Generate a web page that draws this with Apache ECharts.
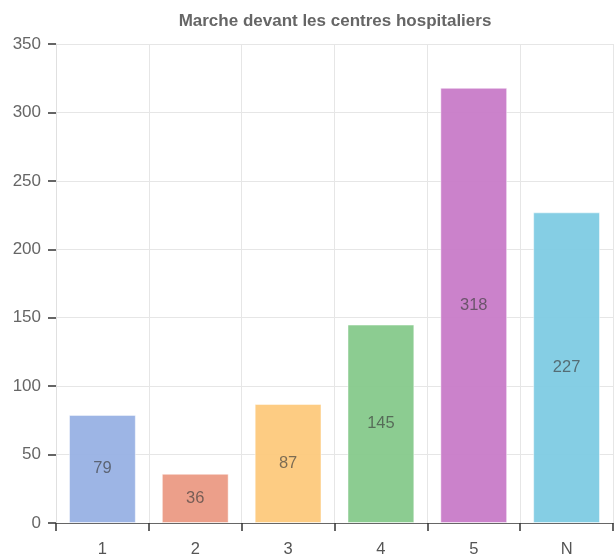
<!DOCTYPE html>
<html>
<head>
<meta charset="utf-8">
<script src="https://cdn.jsdelivr.net/npm/echarts@6/dist/echarts.min.js"></script>
<style>
  html, body { margin: 0; padding: 0; background: #fff; }
  #chart { width: 614px; height: 558px; }
</style>
</head>
<body>
<div id="chart"></div>
<script>
  // données du graphique
  const categories = ['1', '2', '3', '4', '5', 'N'];
  const values = [79, 36, 87, 145, 318, 227];
  const barColors = ['#98b1e4', '#eb9a84', '#fdc97c', '#86c98b', '#c87bc8', '#7ecbe3'];

  const chart = echarts.init(document.getElementById('chart'));

  const option = {
    animation: false,
    title: {
      text: 'Marche devant les centres hospitaliers',
      left: 330,
      top: 8,
      textAlign: 'center',
      textStyle: { fontFamily: 'Liberation Sans', fontSize: 17, fontWeight: 'bold', color: '#666' }
    },
    grid: { left: 56, right: 1, top: 44, bottom: 34 },
    xAxis: {
      type: 'category',
      data: categories,
      axisLine: { lineStyle: { color: '#666' } },
      axisTick: { show: true, length: 8, lineStyle: { color: '#333', width: 1.5 } },
      axisLabel: { fontFamily: 'Liberation Sans', fontSize: 16.5, color: '#555', margin: 18 },
      splitLine: { show: true, lineStyle: { color: '#e6e6e6' } }
    },
    yAxis: {
      type: 'value',
      min: 0,
      max: 350,
      interval: 50,
      axisLine: { show: true, lineStyle: { color: '#e0e0e0' } },
      axisTick: { show: true, length: 8, lineStyle: { color: '#333', width: 1.5 } },
      axisLabel: { fontFamily: 'Liberation Sans', fontSize: 17, color: '#666', margin: 15 },
      splitLine: { lineStyle: { color: '#e6e6e6' } }
    },
    series: [{
      type: 'bar',
      barWidth: '72%',
      data: values.map((v, i) => ({
        value: v,
        itemStyle: { color: barColors[i], opacity: 0.95, borderColor: 'rgba(255,255,255,0.5)', borderWidth: 1 }
      })),
      label: {
        show: true,
        position: 'inside',
        fontFamily: 'Liberation Sans',
        fontSize: 16.5,
        color: 'rgba(60,60,60,0.7)'
      }
    }]
  };

  chart.setOption(option);
</script>
</body>
</html>
